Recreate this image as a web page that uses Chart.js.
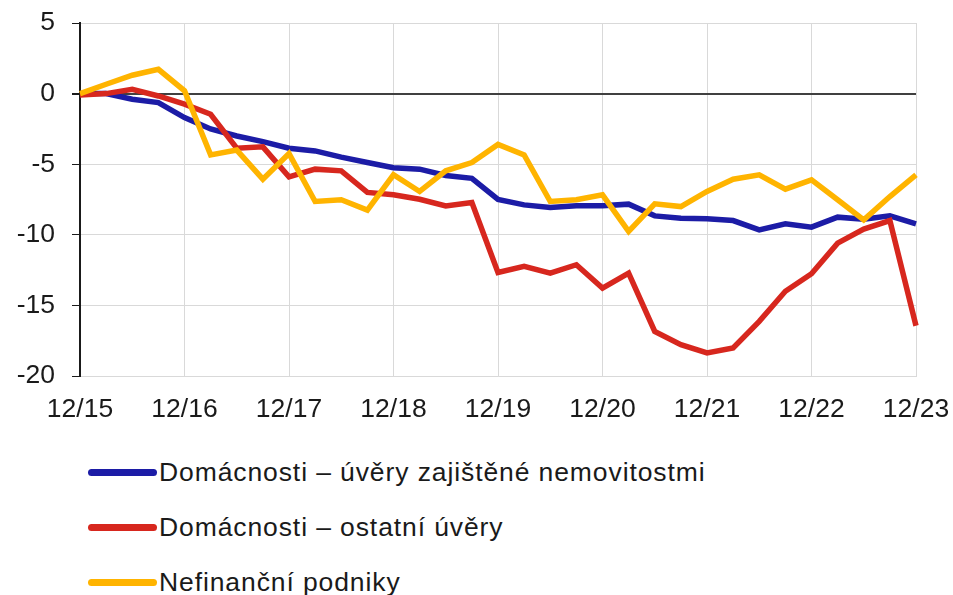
<!DOCTYPE html>
<html>
<head>
<meta charset="utf-8">
<script src="https://cdn.jsdelivr.net/npm/chart.js@4.4.1/dist/chart.umd.min.js"></script>
<style>
  body { margin: 0; background: #fff; }
  #wrap { position: relative; width: 953px; height: 595px; }
  #myChart { position: absolute; left: 0; top: 0; }
  .leg { position: absolute; left: 88px; font: 26.5px Arial, "Liberation Sans", sans-serif; letter-spacing: 0.9px; color: #1a1a1a; display: flex; align-items: center; white-space: nowrap; }
  .leg span.ln { display: inline-block; width: 69px; height: 7px; border-radius: 4px; margin-right: 2px; }
</style>
</head>
<body>
<div id="wrap">
  <canvas id="myChart" width="953" height="440"></canvas>
  <div id="legenda"></div>
</div>
<script>
const ctx = document.getElementById('myChart');

// ctvrtleti 12/15 .. 12/23
const kvartaly = []
for (let r = 15; r <= 23; r++) {
    if (r > 15) {
        kvartaly.push('3/' + r, '6/' + r, '9/' + r)
    }
    kvartaly.push('12/' + r)
}

const nazvy = [
    'Domácnosti – úvěry zajištěné nemovitostmi',
    'Domácnosti – ostatní úvěry',
    'Nefinanční podniky'
]
const barvy = ['#1c1ca6', '#d7271e', '#ffb400']

const nemovitosti = [0, 0, -0.4, -0.64, -1.7, -2.5, -3.0, -3.4, -3.87, -4.06, -4.5, -4.88, -5.25, -5.35, -5.8, -6.0,
    -7.5, -7.88, -8.07, -7.95, -7.95, -7.83, -8.66, -8.82, -8.87, -8.99, -9.65, -9.22, -9.46, -8.75, -8.89, -8.66, -9.22]
const ostatni = [-0.1, 0, 0.3, -0.17, -0.75, -1.46, -3.87, -3.77, -5.9, -5.35, -5.47, -7.0, -7.17, -7.48, -7.95, -7.71,
    -12.67, -12.24, -12.71, -12.12, -13.77, -12.71, -16.84, -17.78, -18.37, -18.02, -16.13, -14.0, -12.76, -10.59, -9.6, -8.99, -16.44]
const podniky = [0, 0.66, 1.3, 1.72, 0.2, -4.34, -4.0, -6.06, -4.25, -7.64, -7.52, -8.25, -5.75, -6.93, -5.47, -4.88,
    -3.6, -4.34, -7.64, -7.52, -7.17, -9.76, -7.81, -8.0, -6.93, -6.06, -5.75, -6.77, -6.11, -7.52, -8.94, -7.29, -5.75]

const osaY = [5, 0, -5, -10, -15, -20]

const pismo = { family: 'Arial, "Liberation Sans", sans-serif', size: 26.5 }

const serie = [nemovitosti, ostatni, podniky]

const graf = new Chart(ctx, {
    type: 'line',
    data: {
        labels: kvartaly,
        datasets: serie.map((s, i) => ({
            label: nazvy[i],
            data: s,
            borderColor: barvy[i],
            backgroundColor: barvy[i],
            borderWidth: 5.5,
            pointRadius: 0,
            tension: 0,
            clip: 6,
            order: 2 - i
        }))
    },
    options: {
        responsive: false,
        animation: false,
        layout: { padding: { top: 23, right: 37, left: 0, bottom: 0 } },
        plugins: { legend: { display: false }, tooltip: { enabled: false } },
        scales: {
            x: {
                offset: false,
                afterFit: (a) => {
                    a.height = 64
                    a.paddingLeft = 0
                    a.paddingRight = 0
                },
                grid: {
                    color: (c) => c.index % 4 == 0 ? '#d9d9d9' : 'rgba(0,0,0,0)',
                    drawTicks: false
                },
                border: { color: '#d9d9d9' },
                ticks: {
                    autoSkip: false,
                    maxRotation: 0,
                    padding: 18,
                    color: '#1a1a1a',
                    font: pismo,
                    callback: (v, i) => i % 4 == 0 ? kvartaly[i] : ''
                }
            },
            y: {
                min: osaY[osaY.length - 1],
                max: osaY[0],
                afterFit: (a) => {
                    a.width = 80
                    a.paddingTop = 0
                    a.paddingBottom = 0
                },
                grid: {
                    color: (c) => c.tick && c.tick.value == 0 ? '#404040' : '#d9d9d9',
                    lineWidth: (c) => c.tick && c.tick.value == 0 ? 2 : 1,
                    tickColor: '#1a1a1a',
                    tickLength: 8
                },
                border: { color: '#1a1a1a', width: 2 },
                ticks: {
                    stepSize: 5,
                    padding: 17,
                    color: '#1a1a1a',
                    font: pismo
                }
            }
        }
    }
});

// legenda pod grafem
const legenda = document.getElementById('legenda')
const radky = [472, 527, 582]
nazvy.forEach((n, i) => {
    const d = document.createElement('div')
    d.className = 'leg'
    d.style.top = (radky[i] - 16) + 'px'
    d.style.height = '32px'
    d.innerHTML = '<span class="ln" style="background:' + barvy[i] + '"></span>' + n
    legenda.appendChild(d)
})
</script>
</body>
</html>
